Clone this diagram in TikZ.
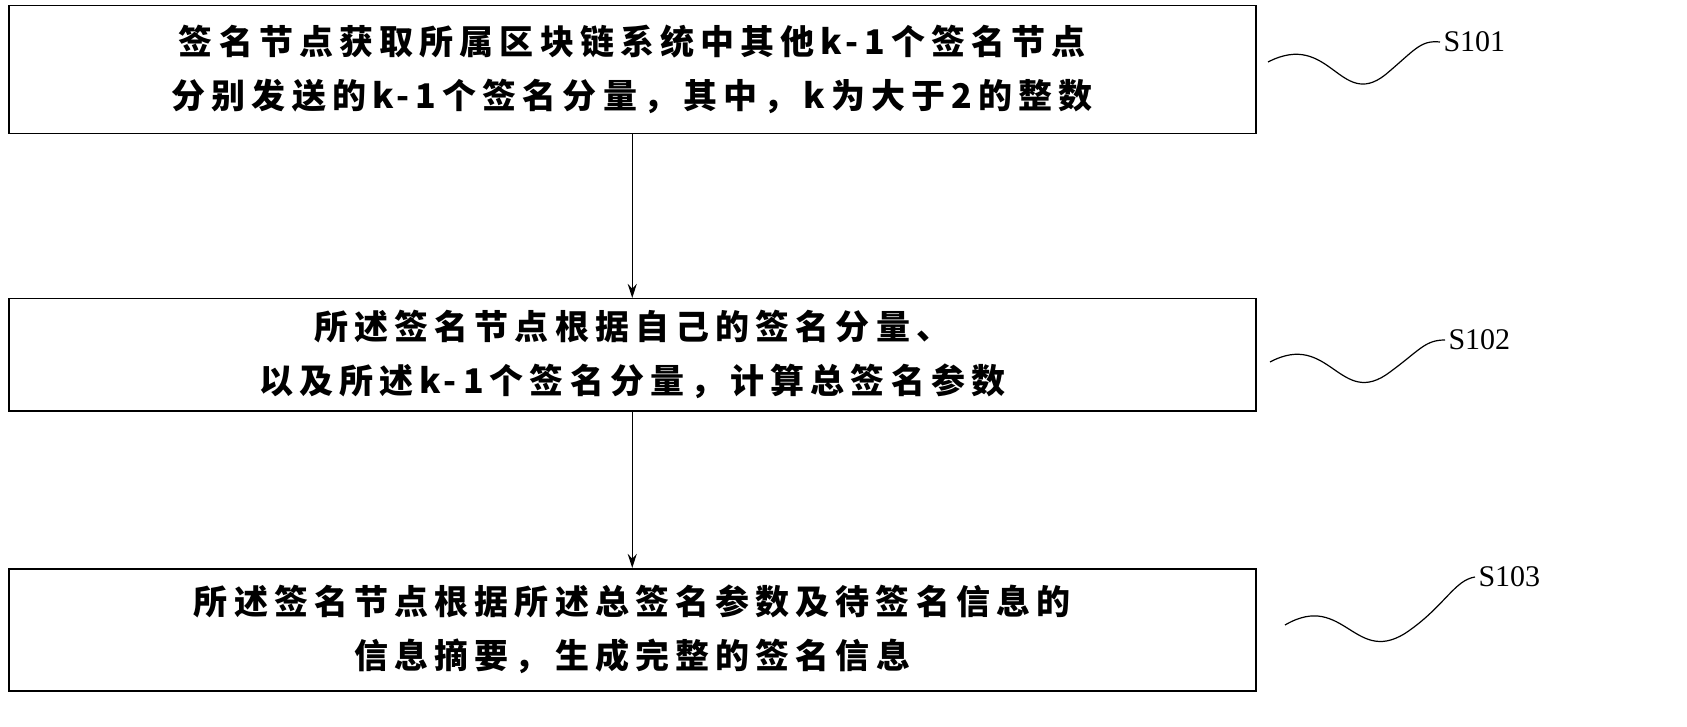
\documentclass[tikz,border=0pt]{standalone}
\usepackage{fontspec}
\usetikzlibrary{arrows.meta}
\setmainfont{Liberation Serif}
\newfontfamily\cjk[LetterSpace=18]{Noto Sans CJK SC}
\begin{document}
\begin{tikzpicture}[x=1pt,y=-1pt,
  box/.style={draw,line width=1.5pt,minimum width=1247pt,anchor=north west,inner sep=0pt,align=center,font=\cjk\bfseries\fontsize{34}{54}\selectfont},
  lab/.style={font=\fontsize{30}{30}\selectfont,anchor=west},
  arr/.style={-{Stealth[length=14pt,width=9pt]},line width=1.2pt}]
\useasboundingbox (0,0) rectangle (1687,727);
\node[box,minimum height=128pt] (b1) at (8,5) {签名节点获取所属区块链系统中其他k-1个签名节点\\分别发送的k-1个签名分量，其中，k为大于2的整数};
\node[box,minimum height=112pt] (b2) at (8,298) {所述签名节点根据自己的签名分量、\\以及所述k-1个签名分量，计算总签名参数};
\node[box,minimum height=122pt] (b3) at (8,568) {所述签名节点根据所述总签名参数及待签名信息的\\信息摘要，生成完整的签名信息};
\draw[arr] (b1.south) -- (b2.north);
\draw[arr] (b2.south) -- (b3.north);
\node[lab] (s1) at (1440,42) {S101};
\node[lab] (s2) at (1445,340) {S102};
\node[lab] (s3) at (1475,577) {S103};
\coordinate (w1) at (1268,62);
\coordinate (w2) at (1270,362);
\coordinate (w3) at (1285,625);
\draw[line width=1.2pt] (w1) .. controls (1330,30) and (1340,110) .. (1385,75) .. controls (1415,50) and (1420,40) .. (s1.west);
\draw[line width=1.2pt] (w2) .. controls (1330,330) and (1340,410) .. (1390,372) .. controls (1420,350) and (1425,340) .. (s2.west);
\draw[line width=1.2pt] (w3) .. controls (1345,590) and (1355,670) .. (1410,630) .. controls (1445,605) and (1455,580) .. (s3.west);
\end{tikzpicture}
\end{document}
